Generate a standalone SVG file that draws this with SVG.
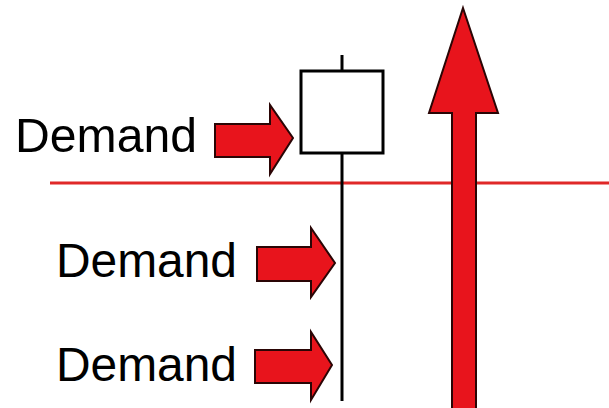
<svg xmlns="http://www.w3.org/2000/svg" width="609" height="408" viewBox="0 0 609 408">
<style>
.arrow{fill:#e8141c;stroke:#2a0505;stroke-width:2;stroke-linejoin:miter}
.lbl{font-family:"Liberation Sans",Arial,sans-serif;font-size:48px;fill:#000}
.wick{stroke:#000;stroke-width:3;fill:none}
</style>
<rect width="609" height="408" fill="#fff"/>
<g id="connectors">
<line x1="50" y1="183" x2="609" y2="183" stroke="#e02828" stroke-width="3"/>
<line class="wick" x1="342" y1="55" x2="342" y2="71"/>
<line class="wick" x1="342" y1="153" x2="342" y2="401"/>
</g>
<g id="candle">
<rect x="301" y="71" width="82" height="82" fill="#fff" stroke="#000" stroke-width="3"/>
</g>
<g id="bigArrow">
<polygon class="arrow" points="463,8 498,113 476,113 476,410 452,410 452,113 429,113"/>
</g>
<g id="demand1">
<text class="lbl" x="15" y="152" textLength="182" lengthAdjust="spacingAndGlyphs">Demand</text>
<polygon class="arrow" points="215,124 270,124 270,105 293,138 270,174 270,157 215,157"/>
</g>
<g id="demand2">
<text class="lbl" x="56" y="277" textLength="181" lengthAdjust="spacingAndGlyphs">Demand</text>
<polygon class="arrow" points="257,247 311,247 311,228 335,263 311,297 311,281 257,281"/>
</g>
<g id="demand3">
<text class="lbl" x="56" y="381" textLength="181" lengthAdjust="spacingAndGlyphs">Demand</text>
<polygon class="arrow" points="255,350 311,350 311,332 332,365 311,400 311,383 255,383"/>
</g>
</svg>
